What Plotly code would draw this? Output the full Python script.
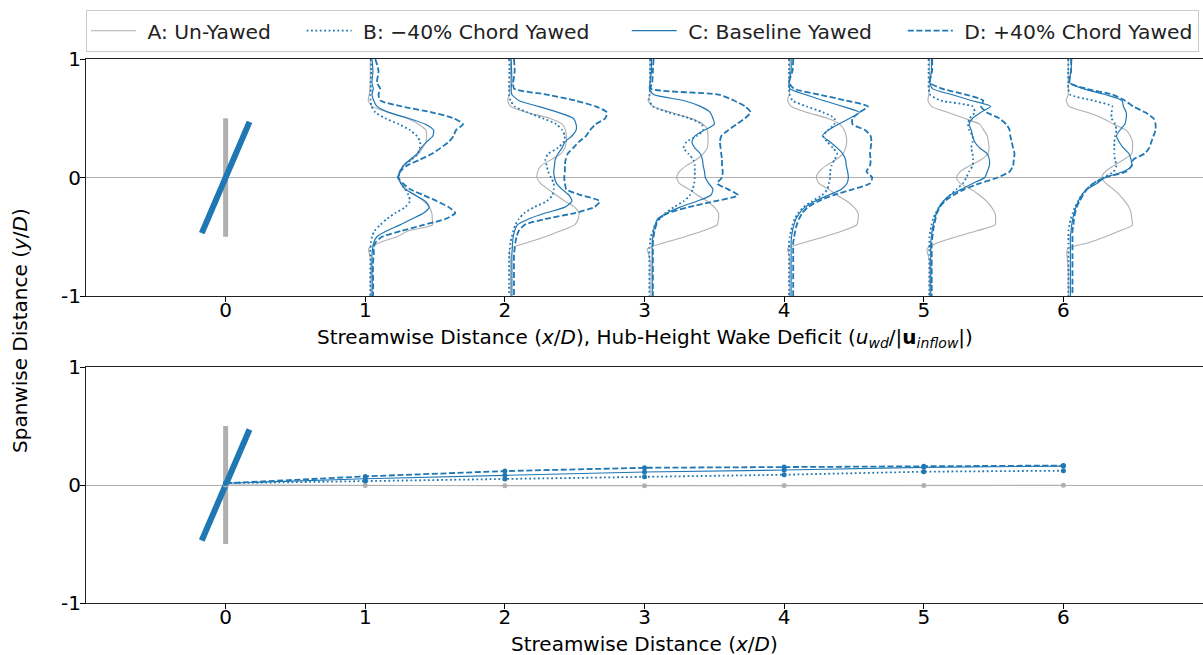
import math
import plotly.graph_objects as go

# ---------------- data ----------------
STATIONS = [1, 2, 3, 4, 5, 6]
X_TICKS = [0, 1, 2, 3, 4, 5, 6]
Y_TICKS = [-1, 0, 1]
Y_TICK_TEXT = ["-1", "0", "1"]

# spanwise sample positions (y/D) shared by all wake-deficit profiles
Y = [1.0, 0.9, 0.8, 0.75, 0.7, 0.65, 0.6, 0.55, 0.5, 0.45, 0.4, 0.35, 0.3, 0.25,
     0.2, 0.15, 0.1, 0.05, 0.0, -0.05, -0.1, -0.15, -0.2, -0.25, -0.3, -0.35,
     -0.4, -0.45, -0.5, -0.55, -0.6, -0.65, -0.7, -0.8, -0.9, -1.0]

# hub-height wake deficit at each station (offset added to station x/D)
A1 = [.036, .036, .036, .033, .029, .021, .048, .167, .298, .382, .434, .44, .434, .41, .382, .33, .274, .245,
      .234, .26, .298, .36, .418, .458, .477, .48, .482, .31, .227, .10, .025, .03, .04, .04, .04, .04]
B1 = [.04, .043, .038, .04, .036, .038, .045, .072, .143, .24, .32, .37, .394, .39, .377, .33, .274, .25,
      .239, .255, .286, .31, .32, .286, .215, .155, .107, .067, .048, .04, .036, .036, .036, .036, .036, .036]
C1 = [.048, .055, .048, .057, .048, .06, .084, .167, .31, .43, .489, .484, .44, .40, .37, .32, .274, .25,
      .239, .255, .286, .36, .43, .458, .418, .334, .25, .155, .084, .06, .053, .048, .048, .048, .05, .048]
D1 = [.072, .095, .084, .107, .095, .107, .26, .477, .632, .70, .65, .632, .597, .54, .477, .39, .298, .25,
      .234, .27, .322, .42, .513, .597, .644, .573, .418, .262, .12, .072, .06, .062, .057, .055, .057, .055]

A2 = [.04, .04, .04, .036, .033, .02, .04, .155, .32, .41, .435, .44, .44, .43, .40, .33, .26, .235,
      .23, .255, .31, .37, .43, .50, .53, .525, .50, .40, .29, .16, .035, .036, .04, .04, .04, .04]
B2 = [.03, .033, .03, .03, .03, .04, .07, .16, .27, .37, .41, .43, .42, .38, .31, .29, .30, .31,
      .33, .35, .35, .34, .30, .21, .14, .10, .075, .06, .05, .04, .035, .03, .03, .03, .03, .03]
C2 = [.045, .048, .05, .045, .05, .10, .24, .38, .49, .51, .51, .48, .43, .41, .38, .36, .355, .35,
      .355, .37, .41, .46, .48, .43, .29, .17, .09, .07, .06, .055, .053, .05, .05, .05, .05, .05]
D2 = [.065, .07, .06, .065, .30, .50, .65, .73, .72, .65, .61, .58, .53, .49, .45, .435, .43, .43,
      .425, .43, .44, .55, .68, .64, .50, .29, .14, .10, .084, .075, .07, .065, .065, .065, .065, .065]

A3 = [.04, .04, .04, .04, .04, .025, .06, .19, .33, .42, .45, .455, .455, .45, .42, .37, .30, .25,
      .23, .25, .32, .38, .45, .50, .53, .53, .52, .42, .29, .14, .02, .03, .04, .04, .04, .04]
B3 = [.04, .04, .04, .04, .035, .035, .06, .17, .32, .41, .42, .375, .30, .28, .315, .35, .36, .36,
      .36, .355, .345, .325, .28, .21, .15, .11, .076, .06, .045, .04, .035, .035, .035, .035, .035, .035]
C3 = [.05, .05, .04, .035, .065, .28, .40, .47, .49, .50, .43, .36, .34, .36, .40, .415, .42, .43,
      .435, .46, .49, .475, .375, .255, .16, .093, .076, .064, .06, .055, .055, .055, .055, .055, .055, .055]
D3 = [.065, .06, .055, .045, .53, .64, .72, .76, .72, .66, .60, .55, .54, .545, .55, .555, .555, .56,
      .555, .52, .60, .67, .505, .315, .17, .10, .084, .072, .065, .06, .06, .06, .06, .06, .06, .06]

A4 = [.04, .04, .04, .04, .036, .025, .05, .16, .31, .40, .43, .445, .448, .44, .42, .37, .30, .25,
      .23, .25, .32, .38, .45, .50, .53, .53, .52, .42, .29, .14, .025, .035, .04, .04, .04, .04]
B4 = [.035, .035, .035, .035, .04, .06, .16, .28, .36, .36, .315, .28, .31, .35, .38, .36, .34, .33,
      .33, .32, .31, .27, .20, .14, .10, .075, .06, .05, .04, .035, .035, .035, .035, .035, .035, .035]
C4 = [.05, .05, .035, .04, .15, .28, .42, .54, .47, .39, .315, .275, .33, .38, .42, .44, .445, .455,
      .46, .45, .41, .315, .22, .15, .11, .084, .07, .06, .053, .05, .05, .05, .05, .05, .05, .05]
D4 = [.065, .06, .035, .07, .25, .44, .60, .54, .49, .49, .58, .62, .625, .62, .615, .62, .615, .59,
      .63, .615, .49, .35, .245, .17, .13, .107, .09, .08, .072, .065, .065, .065, .065, .065, .065, .065]

A5 = [.04, .04, .04, .04, .036, .03, .055, .17, .29, .40, .43, .455, .463, .468, .46, .41, .33, .26,
      .234, .26, .34, .40, .45, .485, .51, .515, .51, .38, .235, .10, .024, .03, .04, .04, .04, .04]
B5 = [.035, .035, .035, .035, .045, .12, .35, .365, .33, .317, .325, .35, .35, .34, .35, .353, .35, .325,
      .305, .28, .234, .186, .143, .11, .086, .067, .055, .048, .04, .04, .04, .04, .04, .04, .04, .04]
C5 = [.055, .055, .045, .062, .20, .34, .48, .41, .35, .325, .34, .35, .365, .40, .455, .47, .47, .455,
      .437, .35, .27, .186, .14, .11, .09, .08, .067, .06, .055, .05, .05, .05, .05, .05, .05, .05]
D5 = [.06, .06, .045, .13, .30, .425, .41, .45, .54, .59, .615, .62, .63, .64, .65, .645, .64, .615,
      .53, .40, .29, .21, .15, .115, .095, .084, .074, .067, .062, .057, .057, .057, .057, .057, .057, .057]

A6 = [.035, .035, .035, .035, .035, .02, .04, .17, .28, .36, .45, .48, .495, .495, .49, .43, .36, .30,
      .275, .305, .36, .405, .44, .47, .485, .49, .495, .405, .30, .18, .03, .025, .03, .035, .035, .035]
B6 = [.035, .035, .035, .035, .048, .21, .35, .345, .345, .37, .38, .37, .365, .365, .365, .37, .38, .36,
      .286, .215, .167, .13, .107, .084, .067, .052, .043, .036, .036, .036, .036, .036, .036, .036, .036, .036]
C6 = [.06, .055, .045, .14, .30, .42, .43, .45, .45, .44, .405, .38, .40, .43, .47, .485, .49, .43,
      .30, .24, .167, .13, .107, .09, .076, .067, .06, .055, .05, .05, .05, .05, .05, .05, .05, .05]
D6 = [.055, .055, .045, .16, .35, .44, .50, .585, .645, .66, .66, .645, .63, .615, .58, .50, .49, .45,
      .30, .215, .167, .14, .115, .095, .084, .076, .072, .065, .065, .065, .065, .065, .065, .065, .065, .065]

# wake-centre trajectory (bottom panel)
WAKE_X = [0, 1, 2, 3, 4, 5, 6]
A_CENTER = [0.0, -0.005, -0.006, -0.006, -0.005, -0.004, -0.003]
B_CENTER = [0.015, 0.034, 0.051, 0.07, 0.087, 0.113, 0.121]
C_CENTER = [0.015, 0.053, 0.082, 0.11, 0.127, 0.15, 0.16]
D_CENTER = [0.015, 0.073, 0.118, 0.146, 0.152, 0.158, 0.165]

# turbine rotor
ROTOR_RADIUS = 0.5
YAW_DEG = 20

LABELS = {"A": "A: Un-Yawed", "B": "B: \u221240% Chord Yawed",
          "C": "C: Baseline Yawed", "D": "D: +40% Chord Yawed"}
PROFILES = {"A": [A1, A2, A3, A4, A5, A6], "B": [B1, B2, B3, B4, B5, B6],
            "C": [C1, C2, C3, C4, C5, C6], "D": [D1, D2, D3, D4, D5, D6]}
CENTERS = {"A": A_CENTER, "B": B_CENTER, "C": C_CENTER, "D": D_CENTER}

# ---------------- style ----------------
BLUE = "#1f77b4"
GRAY = "#b0b0b0"
STYLE = {
    "A": dict(color=GRAY, width=1.1, dash="solid"),
    "B": dict(color=BLUE, width=1.8, dash="1.8px,2.6px"),
    "C": dict(color=BLUE, width=1.2, dash="solid"),
    "D": dict(color=BLUE, width=1.8, dash="6px,2.6px"),
}
LEGEND_PAD = {"A": 4, "B": 5, "C": 4, "D": 0}   # trailing spacing (nbsp count)
FONT = "DejaVu Sans, Verdana, sans-serif"
FS = 20
LFS = 20.3
W, H = 1203, 655
PLOT_L = 86
NB = "\u00a0"

fig = go.Figure()

# turbines in both panels
s = math.sin(math.radians(YAW_DEG)) * ROTOR_RADIUS
c = math.cos(math.radians(YAW_DEG)) * ROTOR_RADIUS
for xa, ya in (("x", "y"), ("x2", "y2")):
    fig.add_trace(go.Scatter(x=[0, 0], y=[-ROTOR_RADIUS, ROTOR_RADIUS], mode="lines",
                             line=dict(color=GRAY, width=5), showlegend=False,
                             hoverinfo="skip", xaxis=xa, yaxis=ya))
    fig.add_trace(go.Scatter(x=[-s, s], y=[-c, c], mode="lines",
                             line=dict(color=BLUE, width=6), showlegend=False,
                             hoverinfo="skip", xaxis=xa, yaxis=ya))

# wake profiles (top panel)
for key in ["A", "B", "C", "D"]:
    for i, (st, prof) in enumerate(zip(STATIONS, PROFILES[key])):
        fig.add_trace(go.Scatter(
            x=[st + d for d in prof], y=Y, mode="lines",
            line=dict(shape="spline", smoothing=0.6, **STYLE[key]),
            name=NB + LABELS[key] + NB * LEGEND_PAD[key], legendgroup=key,
            showlegend=(i == 0), xaxis="x", yaxis="y"))

# wake centre (bottom panel)
for key in ["A", "B", "C", "D"]:
    fig.add_trace(go.Scatter(
        x=WAKE_X, y=CENTERS[key], mode="lines+markers",
        line=STYLE[key], marker=dict(color=STYLE[key]["color"], size=5),
        name=LABELS[key], legendgroup=key, showlegend=False,
        xaxis="x2", yaxis="y2"))

dom_x = [PLOT_L / W, 1.0]
top_dom = [1 - 296 / H, 1 - 59 / H]
bot_dom = [1 - 603 / H, 1 - 367 / H]

common_x = dict(range=[-1, 7], domain=dom_x, tickvals=X_TICKS, ticks="outside", ticklen=5,
                tickwidth=1, tickcolor="black", showline=True, linecolor="#222", linewidth=1,
                mirror=True, showgrid=False, zeroline=False, automargin=False,
                ticklabelstandoff=-9,
                tickfont=dict(family=FONT, size=FS, color="black"))
common_y = dict(range=[-1, 1], tickvals=Y_TICKS, ticktext=Y_TICK_TEXT, ticks="outside", ticklen=5,
                tickwidth=1, tickcolor="black", showline=True, linecolor="#222", linewidth=1,
                showgrid=False, zeroline=True, zerolinecolor=GRAY, zerolinewidth=1,
                automargin=False, ticklabelstandoff=-5,
                tickfont=dict(family=FONT, size=FS, color="black"))

fig.update_layout(
    width=W, height=H, autosize=False,
    margin=dict(l=0, r=0, t=0, b=0, pad=0),
    paper_bgcolor="white", plot_bgcolor="white",
    font=dict(family=FONT, size=FS, color="black"),
    xaxis=dict(anchor="y", **common_x),
    yaxis=dict(anchor="x", domain=top_dom, **common_y),
    xaxis2=dict(anchor="y2", **common_x),
    yaxis2=dict(anchor="x2", domain=bot_dom, **common_y),
    legend=dict(orientation="h", x=(PLOT_L) / W, y=1 - 10 / H, xanchor="left", yanchor="top",
                bordercolor="#cccccc", borderwidth=1, bgcolor="white", itemwidth=45,
                font=dict(family=FONT, size=LFS, color="#222")),
    showlegend=True,
)

fig.add_annotation(text="Streamwise Distance (<i>x</i>/<i>D</i>), Hub-Height Wake Deficit "
                        "(<i>u<sub>wd</sub></i>/|<b>u</b><sub><i>inflow</i></sub>|)",
                   xref="paper", yref="paper", x=(PLOT_L + W) / 2 / W, y=1 - 338 / H,
                   xanchor="center", yanchor="middle", showarrow=False,
                   font=dict(family=FONT, size=FS, color="black"))
fig.add_annotation(text="Streamwise Distance (<i>x</i>/<i>D</i>)",
                   xref="paper", yref="paper", x=(PLOT_L + W) / 2 / W, y=1 - 644 / H,
                   xanchor="center", yanchor="middle", showarrow=False,
                   font=dict(family=FONT, size=FS, color="black"))
fig.add_annotation(text="Spanwise Distance (<i>y</i>/<i>D</i>)",
                   xref="paper", yref="paper", x=20 / W, y=1 - 331 / H, textangle=-90,
                   xanchor="center", yanchor="middle", showarrow=False,
                   font=dict(family=FONT, size=FS, color="black"))

fig.write_html("out.html", config={"displayModeBar": False},
               post_script="document.body.style.margin='0px';")
